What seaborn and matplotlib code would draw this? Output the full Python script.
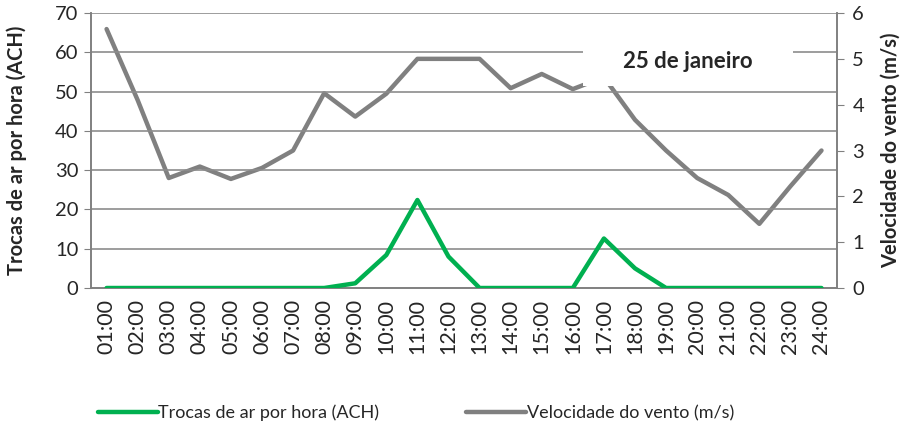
import matplotlib
matplotlib.use("Agg")
import matplotlib.pyplot as plt
from matplotlib.patches import Rectangle
import seaborn as sns
import pandas as pd

# Hourly data, 25 January
hours = [f"{h:02d}:00" for h in range(1, 25)]
ach = [0, 0, 0, 0, 0, 0, 0, 0, 1.2, 8.4, 22.4, 8.0,
       0, 0, 0, 0, 12.6, 5.0, 0, 0, 0, 0, 0, 0]
wind = [5.65, 4.1, 2.4, 2.65, 2.38, 2.62, 3.0, 4.25, 3.74, 4.24, 5.0, 5.0,
        5.0, 4.36, 4.67, 4.34, 4.6, 3.67, 3.0, 2.4, 2.03, 1.4, 2.22, 3.0]

df = pd.DataFrame({"idx": range(len(hours)), "hora": hours, "ach": ach, "vento": wind})

sns.set_style("white")
plt.rcParams["font.family"] = ["Lato", "DejaVu Sans"]

green = "#00B050"
grey = "#808080"

fig = plt.figure(figsize=(9.14, 4.34), dpi=100)
ax = fig.add_axes([0.0996, 0.3364, 0.8162, 0.6336])
ax2 = ax.twinx()

sns.lineplot(data=df, x="idx", y="ach", ax=ax, color=green, linewidth=3.2,
             label="Trocas de ar por hora (ACH)", legend=False, zorder=3)
sns.lineplot(data=df, x="idx", y="vento", ax=ax2, color=grey, linewidth=3.2,
             label="Velocidade do vento (m/s)", legend=False)

ax.set_xlim(-0.5, len(hours) - 0.5)
ax.set_ylim(0, 70)
ax.set_yticks(range(0, 71, 10))
ax2.set_ylim(0, 6)
ax2.set_yticks(range(0, 7))

# green above grey
ax.set_zorder(ax2.get_zorder() + 1)
ax.patch.set_visible(False)

ax.set_xticks(df["idx"])
ax.set_xticklabels(hours, rotation=90, fontsize=15.5)
ax.tick_params(axis="x", length=0, pad=8)
ax.tick_params(axis="y", labelsize=14.5, length=5, color=grey, direction="out", pad=4)
ax2.tick_params(axis="y", labelsize=14.5, length=5, color=grey, direction="out", pad=6)

ax.yaxis.grid(True, color="#8c8c8c", linewidth=1.2)
ax.xaxis.grid(False)
ax2.grid(False)

for a in (ax, ax2):
    a.spines["top"].set_visible(False)
    for side in ("left", "right", "bottom"):
        a.spines[side].set_color(grey)
        a.spines[side].set_linewidth(1.2)

ax.set_xlabel("")
ax.set_ylabel("Trocas de ar por hora (ACH)", fontsize=14.5, fontweight="bold", labelpad=20)
ax2.set_ylabel("Velocidade do vento (m/s)", fontsize=14.5, fontweight="bold", labelpad=12)

# title box (white, covers grid and line)
ax.add_patch(Rectangle((0.6595, 0.735), 0.2815, 0.16, transform=ax.transAxes,
                       facecolor="white", edgecolor="none", zorder=9, clip_on=False))
ax.text(0.80, 0.825, "25 de janeiro", transform=ax.transAxes, ha="center", va="center",
        fontsize=16, fontweight="bold", zorder=10)

h1, l1 = ax.get_legend_handles_labels()
h2, l2 = ax2.get_legend_handles_labels()
fig.legend(h1 + h2, l1 + l2, loc="center", bbox_to_anchor=(0.455, 0.048), ncol=2,
           frameon=False, fontsize=13, handlelength=3.3, handletextpad=0.05,
           columnspacing=4.8)

fig.savefig("out.png", dpi=100)
